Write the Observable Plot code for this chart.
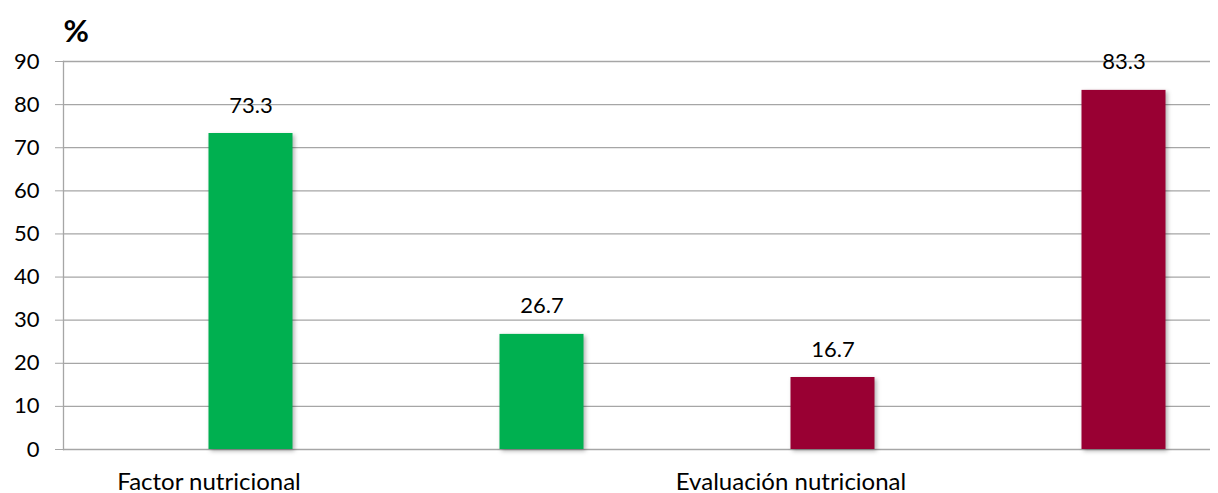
<!DOCTYPE html>
<html>
<head>
<meta charset="utf-8">
<script src="https://cdn.jsdelivr.net/npm/d3@7"></script>
<script src="https://cdn.jsdelivr.net/npm/@observablehq/plot@0.6"></script>
<style>
  html, body { margin: 0; padding: 0; background: #fff; }
  #chart svg { display: block; }
  g[aria-label="bar"] rect { filter: drop-shadow(2px 2px 2px rgba(0,0,0,0.3)); }
</style>
</head>
<body>
<div id="chart"></div>
<script>
const slots = ["a", "b", "c", "d"];
const values = [73.3, 26.7, 16.7, 83.3];
const colors = ["#00b050", "#00b050", "#990033", "#990033"];
const groupLabels = ["Factor nutricional", "Evaluación nutricional"];
const groupSlots = ["a", "c"];
const yTicks = [0, 10, 20, 30, 40, 50, 60, 70, 80, 90];
const unitLabel = "%";

const bars = slots.map((s, i) => ({slot: s, value: values[i], color: colors[i]}));
const groups = groupLabels.map((g, i) => ({slot: groupSlots[i], label: g}));

const chart = Plot.plot({
  width: 1218,
  height: 493,
  marginTop: 61,
  marginBottom: 44,
  marginLeft: 63,
  marginRight: 8,
  style: {fontFamily: "Lato, 'Open Sans', sans-serif", fontSize: "22px", color: "#000", background: "#fff"},
  x: {type: "band", domain: slots, range: [104.5, 1268.5], padding: 0, axis: null},
  y: {domain: [0, 90], ticks: yTicks, label: null},
  marks: [
    Plot.ruleY(yTicks, {stroke: "#a6a6a6", strokeWidth: 1.3}),
    Plot.axisY({ticks: yTicks, tickSize: 8, tickPadding: 16, stroke: "#a6a6a6", strokeOpacity: 1, fill: "#000", fontSize: 22, label: null}),
    Plot.frame({anchor: "left", stroke: "#a6a6a6", strokeWidth: 1.3}),
    Plot.barY(bars, {x: "slot", y: "value", fill: "color", insetLeft: 103.5, insetRight: 103.5}),
    Plot.text(bars, {x: "slot", y: "value", text: d => d.value.toFixed(1), dy: -28, fontSize: 22, fill: "#000"}),
    Plot.text(groups, {x: "slot", text: "label", frameAnchor: "bottom", dx: -42, dy: 40, fontSize: 24, fill: "#000"}),
    Plot.text([unitLabel], {frameAnchor: "top-left", dx: 0, dy: -42, fontSize: 31, fontWeight: "bold", fill: "#000"})
  ]
});
document.getElementById("chart").appendChild(chart);
</script>
</body>
</html>
